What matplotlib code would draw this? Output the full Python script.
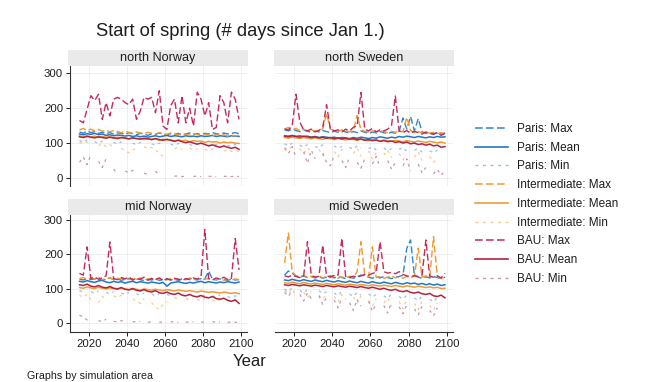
import numpy as np
import matplotlib
matplotlib.use('Agg')
import matplotlib.pyplot as plt
from matplotlib.lines import Line2D

plt.rcParams['font.family'] = ['Liberation Sans', 'DejaVu Sans']

nan = np.nan
years = list(range(2015, 2100, 2))

# ---------------- north Norway ----------------
nn_paris_max = [132,128,135,130,133,128,131,127,130,126,129,128,125,130,127,124,128,126,122,127,125,129,126,124,127,125,128,124,126,129,125,127,124,128,126,130,127,125,129,126,128,130,127]
nn_paris_mean = [126,124,127,125,128,124,126,122,124,121,123,122,120,122,119,121,118,120,117,119,121,118,120,122,119,121,120,118,121,119,120,118,121,119,120,122,119,121,120,118,121,120,119]
nn_paris_min = [108,102,110,nan,104,98,106,100,nan,102,96,104,99,nan,100,95,102,97,nan,98,94,100,96,nan,97,93,99,95,nan,96,92,98,94,nan,95,91,97,93,nan,94,90,96,92]
nn_int_max = [138,142,136,140,135,139,134,137,132,136,133,130,134,131,128,132,129,127,131,128,126,130,127,125,129,126,124,128,125,123,127,124,122,126,123,121,125,122,124,120,123,121,122]
nn_int_mean = [121,118,122,117,120,116,119,117,118,114,117,115,116,112,115,113,114,110,113,111,112,108,111,109,110,106,109,107,108,104,107,105,106,102,105,103,104,100,103,101,102,100,99]
nn_int_min = [102,98,104,95,nan,92,99,90,96,88,nan,85,78,72,80,86,nan,90,84,88,80,72,62,66,nan,84,88,82,nan,86,80,84,nan,82,78,84,80,nan,78,82,76,80,74]
nn_bau_max = [165,158,197,236,222,240,168,216,178,226,231,226,216,210,226,168,192,231,226,231,187,250,149,139,207,226,158,236,158,200,149,246,226,178,216,139,145,236,216,158,246,226,168]
nn_bau_mean = [118,116,119,117,115,118,116,114,117,115,113,116,114,112,115,113,111,114,112,110,113,110,108,111,108,105,108,104,101,104,100,97,100,96,92,95,91,88,92,88,85,88,82]
nn_bau_min = [45,60,38,66,nan,48,30,55,nan,25,12,nan,20,15,22,18,nan,14,10,nan,20,8,nan,5,nan,5,6,4,5,nan,4,6,4,nan,5,4,3,nan,5,4,4,5,4]

# ---------------- north Sweden ----------------
ns_paris_max = [138,135,140,136,133,137,134,131,135,132,136,133,130,134,131,135,132,129,133,130,135,131,128,132,129,133,130,127,131,128,134,172,140,176,135,170,132,128,131,127,130,126,129]
ns_paris_mean = [121,120,122,119,121,118,120,117,119,116,118,117,115,117,114,116,115,113,116,114,117,115,113,116,114,118,116,114,117,115,119,117,120,118,116,119,117,115,118,116,119,117,118]
ns_paris_min = [98,92,100,nan,94,88,96,nan,90,86,95,89,nan,92,85,90,nan,88,82,92,86,nan,84,90,80,nan,86,78,84,nan,82,88,76,nan,80,84,74,nan,78,72,80,nan,76]
ns_int_max = [140,145,138,142,136,140,135,138,134,137,140,185,140,136,133,138,135,132,136,180,138,134,131,135,132,136,133,130,134,131,135,132,174,136,130,133,129,132,128,131,127,130,126]
ns_int_mean = [116,114,117,115,113,116,114,112,115,113,111,114,112,110,113,111,109,112,110,108,111,109,107,110,108,106,109,107,105,108,106,104,107,105,103,106,104,102,105,103,101,103,100]
ns_int_min = [88,80,92,nan,84,70,86,78,nan,82,65,80,nan,76,60,82,74,nan,70,85,62,nan,78,55,72,nan,66,80,58,nan,70,52,64,nan,60,75,50,nan,62,45,58,nan,52]
ns_bau_max = [140,138,150,240,160,138,135,140,132,136,145,210,140,135,138,132,140,135,145,150,245,140,135,142,132,138,135,140,150,235,135,130,136,128,134,130,126,132,128,125,130,122,128]
ns_bau_mean = [120,118,121,119,117,120,118,116,118,115,117,114,116,113,115,112,114,111,113,110,112,108,110,107,109,105,107,104,106,102,104,100,103,98,100,96,98,94,97,92,94,88,90]
ns_bau_min = [85,70,90,60,nan,75,42,80,55,nan,70,45,35,65,nan,50,30,60,nan,45,28,55,nan,40,62,30,nan,50,25,45,nan,35,55,20,nan,40,15,30,nan,12,25,8,20]

# ---------------- mid Norway ----------------
mn_paris_max = [128,126,130,127,129,131,126,128,132,127,129,125,128,130,126,129,127,124,128,126,129,125,127,130,126,128,125,129,127,131,128,126,130,129,152,128,126,129,127,125,128,126,127]
mn_paris_mean = [122,120,124,121,119,123,125,120,118,122,119,121,117,120,122,118,121,119,117,120,118,116,119,108,117,119,121,118,116,119,117,120,122,118,121,119,117,120,118,121,119,117,120]
mn_paris_min = [95,90,nan,92,88,94,nan,90,86,92,nan,88,84,90,nan,86,82,88,nan,85,80,86,nan,84,80,86,nan,82,78,84,nan,80,76,82,nan,80,76,82,nan,78,74,80,76]
mn_int_max = [130,133,128,131,129,134,127,130,132,128,131,129,133,127,130,128,132,126,129,131,127,130,128,126,130,127,129,125,128,131,127,129,126,128,130,126,129,127,125,128,126,129,127]
mn_int_mean = [104,102,106,103,101,105,102,100,103,101,99,102,100,98,101,99,97,100,98,96,99,97,95,98,96,94,97,95,93,95,93,91,94,92,90,92,90,88,91,89,87,89,86]
mn_int_min = [82,75,85,70,nan,60,78,72,nan,80,74,82,76,nan,70,66,58,72,nan,60,48,40,55,62,nan,75,70,nan,72,68,nan,70,65,72,nan,68,62,70,nan,66,64,70,62]
mn_bau_max = [145,140,222,130,135,128,132,138,236,130,127,133,129,135,126,131,128,134,125,130,127,132,124,129,126,131,128,125,130,127,132,128,135,272,130,126,132,128,134,127,131,246,155]
mn_bau_mean = [112,110,114,108,106,110,105,103,107,102,100,104,99,97,101,96,94,98,93,91,95,89,87,91,86,84,88,82,80,84,79,77,81,76,74,78,72,70,73,67,64,68,58]
mn_bau_min = [24,18,10,15,nan,8,5,12,nan,6,4,8,5,nan,5,4,6,nan,3,5,nan,4,3,nan,5,4,3,nan,4,3,5,nan,4,3,nan,5,3,4,nan,3,4,3,5]

# ---------------- mid Sweden ----------------
ms_paris_max = [140,152,145,138,134,137,133,136,132,135,131,134,138,132,136,133,130,134,131,135,140,138,134,131,135,132,136,133,130,134,136,140,218,242,138,134,131,135,132,136,133,130,134]
ms_paris_mean = [126,124,128,125,123,127,124,122,126,123,121,125,122,120,124,121,119,123,120,118,122,119,117,121,118,116,120,117,115,119,116,114,118,115,117,113,116,112,115,111,114,110,112]
ms_paris_min = [100,92,104,nan,96,88,98,90,nan,95,86,92,nan,88,80,94,nan,85,78,90,82,nan,86,76,84,nan,80,72,86,nan,78,70,82,nan,74,66,80,nan,70,62,76,nan,68]
ms_int_max = [175,262,150,138,135,140,133,137,134,138,132,136,133,139,131,135,132,137,134,150,237,140,135,222,133,136,131,134,138,132,135,131,136,133,137,218,134,138,132,252,136,130,134]
ms_int_mean = [118,116,120,117,115,119,116,114,117,115,113,116,114,112,115,113,111,114,112,110,113,111,109,112,110,108,111,109,107,110,108,106,109,107,105,108,106,104,106,103,105,101,102]
ms_int_min = [95,85,100,80,nan,90,75,88,nan,82,70,86,nan,78,62,84,70,nan,76,58,80,nan,66,50,72,nan,60,74,48,nan,64,42,70,nan,58,40,66,nan,52,38,60,nan,45]
ms_bau_max = [138,135,140,136,133,137,237,140,134,137,227,138,135,139,140,247,136,133,137,134,138,142,140,145,148,237,150,146,148,144,150,142,138,135,139,136,140,242,137,134,138,132,145]
ms_bau_mean = [112,110,113,111,109,112,110,108,111,109,107,110,108,106,109,107,105,108,106,104,107,104,102,105,102,99,102,98,96,99,94,92,95,90,88,91,86,84,87,80,78,82,74]
ms_bau_min = [90,78,96,nan,84,65,88,72,nan,80,55,76,nan,68,45,74,nan,60,38,70,50,nan,64,35,58,nan,52,30,62,nan,48,28,55,nan,42,25,50,nan,38,22,45,nan,35]

labels = ['Paris: Max', 'Paris: Mean', 'Paris: Min',
          'Intermediate: Max', 'Intermediate: Mean', 'Intermediate: Min',
          'BAU: Max', 'BAU: Mean', 'BAU: Min']
panel_titles = ['north Norway', 'north Sweden', 'mid Norway', 'mid Sweden']
x_ticks = [2020, 2040, 2060, 2080, 2100]
y_ticks = [0, 100, 200, 300]

# styles: (color, linestyle, linewidth, alpha)
DASH = (0, (5, 2.2))
SHORT = (0, (2.2, 3.2))
styles = [
    ('#2b86d6', DASH, 1.0, 1.0),
    ('#1f78c8', '-', 1.1, 1.0),
    ('#8db9e3', SHORT, 0.9, 0.9),
    ('#f2982c', DASH, 1.0, 1.0),
    ('#ef9a35', '-', 1.1, 1.0),
    ('#f6c48a', SHORT, 0.9, 0.9),
    ('#c42a5a', DASH, 1.0, 1.0),
    ('#b3243c', '-', 1.1, 1.0),
    ('#c58aa6', SHORT, 0.9, 0.9),
]

panels = [
    [nn_paris_max, nn_paris_mean, nn_paris_min, nn_int_max, nn_int_mean, nn_int_min, nn_bau_max, nn_bau_mean, nn_bau_min],
    [ns_paris_max, ns_paris_mean, ns_paris_min, ns_int_max, ns_int_mean, ns_int_min, ns_bau_max, ns_bau_mean, ns_bau_min],
    [mn_paris_max, mn_paris_mean, mn_paris_min, mn_int_max, mn_int_mean, mn_int_min, mn_bau_max, mn_bau_mean, mn_bau_min],
    [ms_paris_max, ms_paris_mean, ms_paris_min, ms_int_max, ms_int_mean, ms_int_min, ms_bau_max, ms_bau_mean, ms_bau_min],
]

W, H = 654.0, 382.0
fig = plt.figure(figsize=(W / 100, H / 100), dpi=100)

def fx(px):
    return px / W

def fy(py):
    return 1 - py / H

# pixel boxes: (x0, x1, header_top, plot_top, plot_bottom)
boxes = [
    (70, 247, 50, 66, 186),
    (275, 453, 50, 66, 186),
    (70, 247, 199, 215, 332),
    (275, 453, 199, 215, 332),
]
ylims = [(-23, 321), (-23, 321), (-25, 314.5), (-25, 314.5)]
txt = '#1e1e1e'

for k in range(4):
    x0, x1, ht, pt, pb = boxes[k]
    ax = fig.add_axes([fx(x0), fy(pb), fx(x1 - x0), (pb - pt) / H])
    for series, (c, ls, lw, a) in zip(panels[k], styles):
        ax.plot(years, series, color=c, linestyle=ls, linewidth=lw, alpha=a)
    ax.set_xlim(2010, 2103.2)
    ax.set_ylim(*ylims[k])
    ax.set_xticks(x_ticks)
    ax.set_yticks(y_ticks)
    ax.grid(True, color='#ececec', linewidth=0.6)
    ax.set_axisbelow(True)
    for s in ['top', 'right']:
        ax.spines[s].set_visible(False)
    left_col = k in (0, 2)
    bottom_row = k in (2, 3)
    ax.spines['left'].set_visible(left_col)
    ax.spines['bottom'].set_visible(bottom_row)
    ax.spines['left'].set_color('#333333')
    ax.spines['bottom'].set_color('#333333')
    ax.spines['left'].set_linewidth(0.8)
    ax.spines['bottom'].set_linewidth(0.8)
    ax.tick_params(axis='y', left=left_col, labelleft=left_col, length=3, width=0.7,
                   pad=2, labelsize=8.2, colors=txt)
    ax.tick_params(axis='x', bottom=bottom_row, labelbottom=bottom_row, length=3,
                   width=0.7, pad=2, labelsize=8.2, colors=txt)
    # header strip
    hx0 = x0 - 2 if left_col else x0 - 1
    hax = fig.add_axes([fx(hx0), fy(pt), fx(x1 + 1 - hx0), (pt - ht) / H])
    hax.set_facecolor('#eaeaea')
    hax.set_xticks([])
    hax.set_yticks([])
    for s in hax.spines.values():
        s.set_visible(False)
    hax.text(0.5, 0.5, panel_titles[k], ha='center', va='center', fontsize=9.1,
             color=txt, transform=hax.transAxes)

fig.text(fx(240), fy(31), 'Start of spring (# days since Jan 1.)', ha='center',
         va='center', fontsize=13.2, color=txt)
fig.text(fx(250), fy(361), 'Year', ha='center', va='center', fontsize=12, color=txt)
fig.text(fx(27), fy(376), 'Graphs by simulation area', ha='left', va='center',
         fontsize=7.7, color=txt)

handles = [Line2D([0], [0], color=c, linestyle=ls, linewidth=lw + 0.1, alpha=a)
           for (c, ls, lw, a) in styles]
fig.legend(handles, labels, loc='upper left', bbox_to_anchor=(fx(475), fy(123)),
           frameon=False, fontsize=8.5, handlelength=2.8, handletextpad=0.75,
           labelspacing=0.57, borderpad=0, borderaxespad=0, labelcolor=txt)

fig.savefig('out.png', dpi=100)
